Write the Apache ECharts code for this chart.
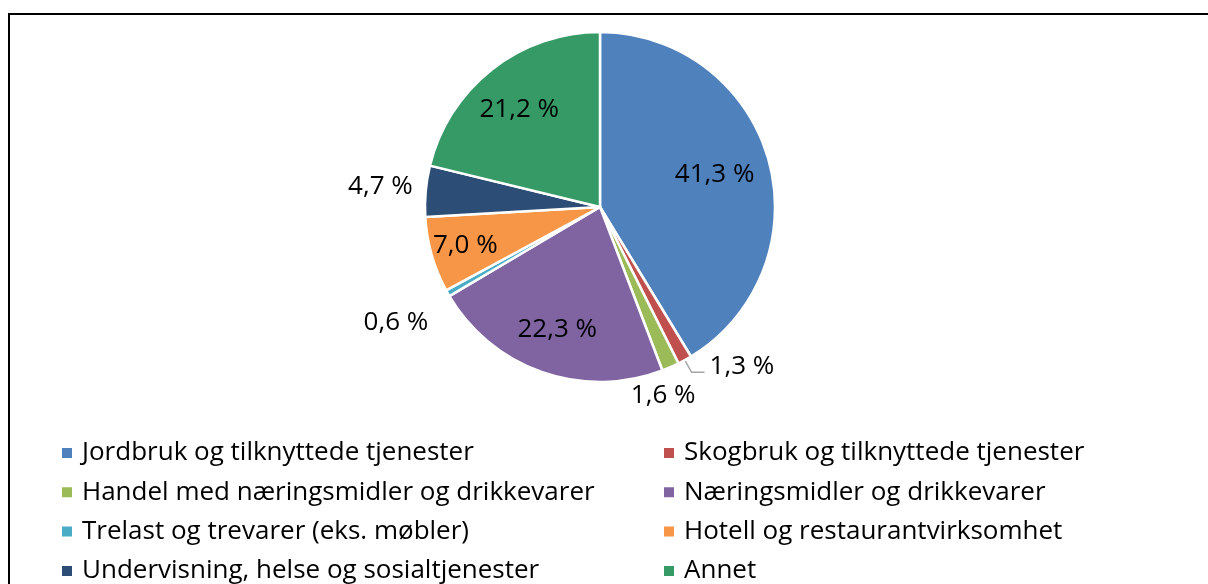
<!DOCTYPE html>
<html>
<head>
<meta charset="utf-8">
<script src="https://cdn.jsdelivr.net/npm/echarts@6/dist/echarts.min.js"></script>
<style>
html,body{margin:0;padding:0;background:#fff;}
#c1{width:1208px;height:584px;}
</style>
</head>
<body>
<div id="c1"></div>
<script>
var categories = ['Jordbruk og tilknyttede tjenester','Skogbruk og tilknyttede tjenester','Handel med næringsmidler og drikkevarer','Næringsmidler og drikkevarer','Trelast og trevarer (eks. møbler)','Hotell og restaurantvirksomhet','Undervisning, helse og sosialtjenester','Annet'];
var shares = [41.3, 1.3, 1.6, 22.3, 0.6, 7.0, 4.7, 21.2];
var colors = ['#4f81bd','#c0504d','#9bbb59','#8064a2','#4bacc6','#f79646','#2c4d75','#359a66'];

var leftCol = [categories[0], categories[2], categories[4], categories[6]];
var rightCol = [categories[1], categories[3], categories[5], categories[7]];

// label distance from centre, as part of the radius (Excel style placement)
var lab_r = [0.68, 0, 1.18, 0.74, 1.34, 0.80, 1.26, 0.71];
var lab_nudge = [0, 0, -20, 0, 0, 0, 0, -4];

var cx = 600, cy = 207, R = 175;
var font = '"Open Sans", sans-serif';

var c1_chart = echarts.init(document.getElementById('c1'));

var pie_data = [];
for (var i = 0; i < categories.length; i++) {
    var d = {name: categories[i], value: shares[i], itemStyle: {color: colors[i]}};
    if (i == 1) {
        d.label = {position: 'outside'};
        d.labelLine = {show: true, length: 14, length2: 13, lineStyle: {color: '#a6a6a6', width: 1.5}};
    }
    pie_data.push(d);
}

function legend_col(left, items) {
    return {
        orient: 'vertical', left: left, top: 439, height: 170, padding: 0,
        data: items,
        icon: 'rect', itemWidth: 12, itemHeight: 12, itemGap: 11.3,
        textStyle: {fontFamily: font, fontSize: 26, color: '#000', lineHeight: 28, padding: [0, 0, 0, 4]},
        selectedMode: false
    };
}

var c1_option = {
    animation: false,
    color: colors,
    graphic: [{
        type: 'rect', silent: true, z: -1,
        shape: {x: 9, y: 14, width: 1400, height: 800},
        style: {fill: 'none', stroke: '#000', lineWidth: 2}
    }],
    legend: [legend_col(60, leftCol), legend_col(662, rightCol)],
    series: [{
        type: 'pie',
        center: [cx, cy],
        radius: [0, R],
        startAngle: 90,
        clockwise: true,
        avoidLabelOverlap: false,
        itemStyle: {borderColor: '#fff', borderWidth: 2.5},
        label: {
            show: true,
            position: 'inside',
            fontFamily: font, fontSize: 26, color: '#000',
            formatter: function (p) { return p.value.toFixed(1).replace('.', ',') + ' %'; }
        },
        labelLine: {show: false},
        labelLayout: function (p) {
            var i = p.dataIndex;
            if (i == 1) return {dy: -6};
            var r = p.labelRect;
            var lx = r.x + r.width / 2 - cx, ly = r.y + r.height / 2 - cy;
            var len = Math.sqrt(lx * lx + ly * ly);
            var k = lab_r[i] * R / len;
            return {x: cx + lx * k + lab_nudge[i], y: cy + ly * k, align: 'center', verticalAlign: 'middle'};
        },
        data: pie_data
    }]
};
c1_chart.setOption(c1_option);
</script>
</body>
</html>
